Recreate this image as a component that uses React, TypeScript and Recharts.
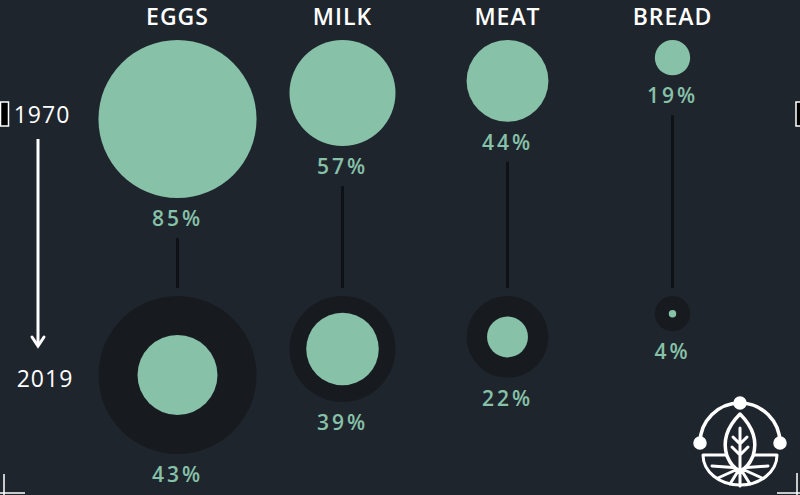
import { ScatterChart, Scatter, XAxis, YAxis, ZAxis } from "recharts";

const foods = ["EGGS", "MILK", "MEAT", "BREAD"];
const share1970 = [85, 57, 44, 19];
const share2019 = [43, 39, 22, 4];
const years = [1970, 2019];

const GREEN = "#86c1a8";
const BG = "#1f252d";
const RING = "#171b1f";
const STEM = "#0e1115";
const FONT = "'Open Sans', sans-serif";

// rows are top-aligned: 1970 row starts at y=40, 2019 row at y=296
const TOP = 40;
const BOTTOM_ROW = 296;
const ROW_GAP = BOTTOM_ROW - TOP;

const row1970 = foods.map((food, i) => ({ food, year: years[0], value: share1970[i] }));
const row2019 = foods.map((food, i) => ({
  food,
  year: years[1],
  value: share1970[i],
  now: share2019[i],
}));

const pct = (v: number, x: number, y: number) => (
  <text
    x={x}
    y={y}
    textAnchor="middle"
    dominantBaseline="central"
    fill={GREEN}
    fontFamily={FONT}
    fontWeight={600}
    fontSize={21}
    letterSpacing={3}
  >
    {v}%
  </text>
);

const TopBubble = (props: any) => {
  const { cx, cy, size, payload } = props;
  const r = size;
  const labelY = cy + 2 * r + 20;
  return (
    <g>
      <circle cx={cx} cy={cy + r} r={r} fill={GREEN} />
      {pct(payload.value, cx, labelY)}
      <line x1={cx} x2={cx} y1={labelY + 20} y2={cy + ROW_GAP - 8} stroke={STEM} strokeWidth={3} />
    </g>
  );
};

const BottomBubble = (props: any) => {
  const { cx, cy, size, payload } = props;
  const r = size;
  const inner = (size * payload.now) / payload.value;
  return (
    <g>
      <circle cx={cx} cy={cy + r} r={r} fill={RING} />
      <circle cx={cx} cy={cy + r} r={inner} fill={GREEN} />
      {pct(payload.now, cx, cy + 2 * r + 20)}
    </g>
  );
};

const HeaderTick = (props: any) => {
  const { x, y, payload } = props;
  return (
    <text
      x={x}
      y={y - 7}
      textAnchor="middle"
      fill="#ffffff"
      fontFamily={FONT}
      fontWeight={600}
      fontSize={23}
      letterSpacing={1}
    >
      {payload.value}
    </text>
  );
};

const Logo = () => (
  <g fill="none" stroke="#ffffff" strokeWidth={3.5} strokeLinejoin="round" strokeLinecap="round">
    <path d="M700,443 A40,40 0 0 1 780,443" />
    <circle cx={700} cy={443} r={5} fill="#ffffff" />
    <circle cx={740} cy={403} r={5} fill="#ffffff" />
    <circle cx={780} cy={443} r={5} fill="#ffffff" />
    <path d="M703,455 L777,455 A37,30 0 0 1 703,455 Z" strokeWidth={3} />
    <path d="M740,468 L712,466 M740,468 L718,478 M740,468 L730,484 M740,468 L740,486 M740,468 L750,484 M740,468 L762,478 M740,468 L768,466" strokeWidth={3} />
    <path d="M740,414 Q760,434 753,456 Q748,468 740,471 Q732,468 727,456 Q720,434 740,414 Z" fill={BG} />
    <path d="M740,428 L740,470 M733,437 L740,444 L747,437 M732,447 L740,455 L748,447" strokeWidth={3} />
  </g>
);

export default function App() {
  return (
    <div
      style={{
        position: "absolute",
        left: 0,
        top: 0,
        width: 800,
        height: 495,
        background: BG,
        overflow: "hidden",
      }}
    >
      <ScatterChart width={800} height={495} margin={{ top: 0, right: 45, bottom: 495 - BOTTOM_ROW, left: 95 }}>
        <XAxis
          dataKey="food"
          type="category"
          orientation="top"
          height={TOP}
          allowDuplicatedCategory={false}
          axisLine={false}
          tickLine={false}
          tick={<HeaderTick />}
          interval={0}
        />
        <YAxis dataKey="year" type="number" domain={[years[0], years[1]]} reversed hide />
        <ZAxis dataKey="value" type="number" domain={[0, 100]} range={[0, 93]} />
        <Scatter data={row1970} shape={<TopBubble />} isAnimationActive={false} />
        <Scatter data={row2019} shape={<BottomBubble />} isAnimationActive={false} />
      </ScatterChart>
      <svg
        width={800}
        height={495}
        style={{ position: "absolute", left: 0, top: 0, pointerEvents: "none" }}
      >
        <text x={42} y={114} textAnchor="middle" dominantBaseline="central" fill="#ffffff" fontFamily={FONT} fontWeight={500} fontSize={23} letterSpacing={1}>
          {years[0]}
        </text>
        <text x={45} y={378} textAnchor="middle" dominantBaseline="central" fill="#ffffff" fontFamily={FONT} fontWeight={500} fontSize={23} letterSpacing={1}>
          {years[1]}
        </text>
        <line x1={38} x2={38} y1={139} y2={345} stroke="#ffffff" strokeWidth={3} />
        <path d="M32,337 L38,346 L44,337" fill="none" stroke="#ffffff" strokeWidth={3} strokeLinecap="round" />
        <rect x={0.5} y={102} width={8} height={24} fill="#000000" stroke="#ffffff" strokeWidth={1.5} />
        <rect x={796} y={102} width={8} height={24} fill="#000000" stroke="#ffffff" strokeWidth={1.5} />
        <path d="M4,474 L4,495 M0,493 L25,493" stroke="#ffffff" strokeWidth={1.5} fill="none" />
        <path d="M797,473 L797,495 M777,493 L800,493" stroke="#ffffff" strokeWidth={1.5} fill="none" />
        <Logo />
      </svg>
    </div>
  );
}
